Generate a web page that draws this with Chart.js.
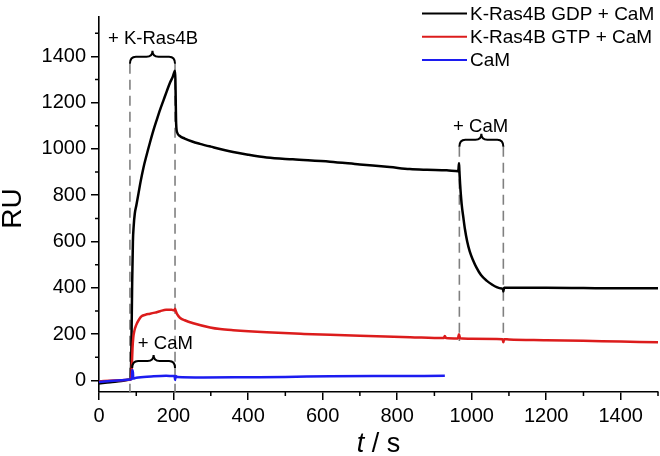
<!DOCTYPE html>
<html>
<head>
<meta charset="utf-8">
<title>SPR sensorgram</title>
<script src="https://cdn.jsdelivr.net/npm/chart.js@4.4.1/dist/chart.umd.min.js"></script>
<style>
  html, body { margin: 0; padding: 0; background: #fff; }
</style>
</head>
<body>
<canvas id="chart" width="660" height="456"></canvas>
<script>
// K-Ras4B GDP + CaM (black)
const gdpTime = [0, 30, 60, 83, 85, 87, 89, 91, 93, 96, 100, 106, 112, 119, 128, 137, 146, 155, 164, 173, 182, 191, 198, 204,
  205, 207, 210, 217, 230, 250, 271, 300, 360, 400, 450, 520, 620, 700, 780, 834, 880, 933, 964, 966, 967,
  969, 973, 978, 982, 988, 995, 1004, 1013, 1025, 1040, 1055, 1067, 1080, 1084, 1085, 1087, 1090, 1200, 1300, 1400, 1500];
const gdpRU = [-13, -8, -2, 4, 8, 150, 420, 600, 665, 720, 755, 808, 862, 917, 975, 1029, 1080, 1126, 1170, 1210, 1250, 1288, 1312, 1338,
  1300, 1110, 1070, 1056, 1045, 1032, 1022, 1010, 987, 975, 963, 955, 945, 933, 922, 913, 910, 908, 904, 938, 905,
  848, 764, 700, 653, 600, 556, 518, 487, 455, 431, 414, 403, 397, 396, 384, 400, 400, 400, 399, 398, 398];

// K-Ras4B GTP + CaM (red)
const gtpTime = [0, 40, 83, 86, 88, 90, 92, 95, 100, 107, 115, 125, 137, 150, 164, 180, 195, 202, 204, 206, 210, 217, 230, 253,
  298, 325, 360, 450, 550, 620, 700, 835, 925, 928, 931, 963, 966, 969, 1000, 1083, 1085, 1087, 1100, 1200, 1300, 1400, 1500];
const gtpRU = [-4, 0, 3, 10, 60, 140, 185, 215, 240, 262, 278, 284, 288, 293, 299, 305, 305, 302, 310, 300, 285, 271, 260, 247,
  229, 222, 217, 208, 201, 197, 193, 187, 183, 192, 183, 181, 200, 182, 180, 178, 165, 178, 177, 174, 171, 168, 165];

// CaM alone (blue)
const camTime = [0, 30, 60, 83, 88, 89, 91, 92, 100, 140, 180, 200, 203, 204, 206, 210, 280, 400, 500, 620, 800, 928];
const camRU = [-7, -3, 1, 4, 6, 45, 35, 8, 12, 17, 20, 19, 19, 2, 19, 15, 13, 14, 15, 18, 19, 20];

const seriesLabels = ['K-Ras4B GDP + CaM', 'K-Ras4B GTP + CaM', 'CaM'];
const seriesColors = ['#000000', '#dc1c1c', '#1c1cf0'];

// axis tick labels
const xTicks = [0, 200, 400, 600, 800, 1000, 1200, 1400];
const yTicks = [0, 200, 400, 600, 800, 1000, 1200, 1400];

// injection marks: dashed line times and their vertical spans (RU)
const markTimes = [83, 204, 967, 1085];
const markTop = [1368, 1368, 1009, 1009];
const markBottom = [-50, -50, 170, 170];

// braces with their labels (t0, t1, RU of brace ends, label, label centre)
const braceStart = [83, 967, 89];
const braceEnd = [204, 1085, 204];
const braceRU = [1368, 1009, 54];
const braceLabels = ['+ K-Ras4B', '+ CaM', '+ CaM'];
const braceLabelT = [145, 1024, 178];
const braceLabelRU = [1476, 1095, 158];

const FONT = '"Liberation Sans", Arial, Helvetica, sans-serif';
Chart.defaults.font.family = FONT;
Chart.defaults.color = '#000';

function toPoints(xs, ys) {
  return xs.map((x, i) => ({ x: x, y: ys[i] }));
}

function drawBrace(ctx, x0, x1, yEnd) {
  const yBody = yEnd - 7;
  const yTip = yEnd - 13;
  const xm = (x0 + x1) / 2;
  const r = 6;
  ctx.beginPath();
  ctx.moveTo(x0, yEnd);
  ctx.quadraticCurveTo(x0, yBody, x0 + r, yBody);
  ctx.lineTo(xm - r, yBody);
  ctx.quadraticCurveTo(xm, yBody, xm, yTip);
  ctx.quadraticCurveTo(xm, yBody, xm + r, yBody);
  ctx.lineTo(x1 - r, yBody);
  ctx.quadraticCurveTo(x1, yBody, x1, yEnd);
  ctx.stroke();
}

const sprPlugin = {
  id: 'sprDecorations',
  beforeDatasetsDraw(chart) {
    const ctx = chart.ctx;
    const xs = chart.scales.x, ys = chart.scales.y;
    ctx.save();
    ctx.strokeStyle = '#808080';
    ctx.lineWidth = 1.6;
    ctx.setLineDash([10, 6]);
    markTimes.forEach((t, i) => {
      const px = xs.getPixelForValue(t);
      ctx.beginPath();
      ctx.moveTo(px, ys.getPixelForValue(markTop[i]));
      ctx.lineTo(px, ys.getPixelForValue(markBottom[i]));
      ctx.stroke();
    });
    ctx.restore();
  },
  afterDraw(chart) {
    const ctx = chart.ctx;
    const xs = chart.scales.x, ys = chart.scales.y;
    const area = chart.chartArea;
    ctx.save();

    // braces and their labels
    ctx.strokeStyle = '#000';
    ctx.lineWidth = 2;
    braceStart.forEach((t0, i) => {
      drawBrace(ctx, xs.getPixelForValue(t0), xs.getPixelForValue(braceEnd[i]), ys.getPixelForValue(braceRU[i]));
    });
    ctx.fillStyle = '#000';
    ctx.font = '18.5px ' + FONT;
    ctx.textAlign = 'center';
    ctx.textBaseline = 'middle';
    braceLabels.forEach((txt, i) => {
      ctx.fillText(txt, xs.getPixelForValue(braceLabelT[i]), ys.getPixelForValue(braceLabelRU[i]));
    });

    // minor ticks
    ctx.strokeStyle = '#000';
    ctx.lineWidth = 1.5;
    ctx.beginPath();
    for (let v = 100; v <= xs.max; v += 200) {
      const px = xs.getPixelForValue(v);
      ctx.moveTo(px, area.bottom);
      ctx.lineTo(px, area.bottom + 4);
    }
    for (let v = 100; v <= ys.max; v += 200) {
      const py = ys.getPixelForValue(v);
      ctx.moveTo(area.left, py);
      ctx.lineTo(area.left - 4, py);
    }
    ctx.stroke();

    // axis titles
    ctx.font = '28px ' + FONT;
    ctx.textAlign = 'center';
    ctx.textBaseline = 'middle';
    ctx.save();
    ctx.translate(13, (area.top + area.bottom) / 2 + 4);
    ctx.rotate(-Math.PI / 2);
    ctx.fillText('RU', 0, 0);
    ctx.restore();

    ctx.font = 'italic 27px ' + FONT;
    const tW = ctx.measureText('t').width;
    ctx.font = '27px ' + FONT;
    const restW = ctx.measureText(' / s').width;
    const cx = (area.left + area.right) / 2;
    const startX = cx - (tW + restW) / 2;
    ctx.textAlign = 'left';
    ctx.textBaseline = 'alphabetic';
    ctx.font = 'italic 27px ' + FONT;
    ctx.fillText('t', startX, 452);
    ctx.font = '27px ' + FONT;
    ctx.fillText(' / s', startX + tW, 452);

    // legend
    ctx.font = '19px ' + FONT;
    ctx.textBaseline = 'middle';
    ctx.setLineDash([]);
    chart.data.datasets.forEach((ds, i) => {
      const y = 13.5 + i * 23.3;
      ctx.strokeStyle = ds.borderColor;
      ctx.lineWidth = 2;
      ctx.beginPath();
      ctx.moveTo(422, y);
      ctx.lineTo(467, y);
      ctx.stroke();
      ctx.fillText(ds.label, 470, y + 1);
    });
    ctx.restore();
  }
};

const ctx = document.getElementById('chart').getContext('2d');
new Chart(ctx, {
  type: 'line',
  data: {
    datasets: [
      { label: seriesLabels[0], data: toPoints(gdpTime, gdpRU), borderColor: seriesColors[0], order: 3 },
      { label: seriesLabels[1], data: toPoints(gtpTime, gtpRU), borderColor: seriesColors[1], order: 2 },
      { label: seriesLabels[2], data: toPoints(camTime, camRU), borderColor: seriesColors[2], order: 1 }
    ]
  },
  options: {
    responsive: false,
    animation: false,
    layout: { padding: { top: 3, right: 2, left: 0, bottom: 0 } },
    elements: {
      point: { radius: 0 },
      line: { borderWidth: 2.5, cubicInterpolationMode: 'monotone', fill: false }
    },
    plugins: {
      legend: { display: false },
      tooltip: { enabled: false }
    },
    scales: {
      x: {
        type: 'linear',
        min: 0,
        max: 1500,
        afterBuildTicks(scale) { scale.ticks = xTicks.map(v => ({ value: v })); },
        afterFit(scale) { scale.height = 64; },
        border: { color: '#000', width: 1.6 },
        grid: { drawOnChartArea: false, drawTicks: true, tickLength: 8, tickColor: '#000', lineWidth: 1.5 },
        ticks: { padding: 4, color: '#000', font: { size: 20 }, maxRotation: 0, autoSkip: false,
          callback: v => String(v) }
      },
      y: {
        type: 'linear',
        min: -50,
        max: 1570,
        afterBuildTicks(scale) { scale.ticks = yTicks.map(v => ({ value: v })); },
        afterFit(scale) { scale.width = 99; },
        border: { color: '#000', width: 1.6 },
        grid: { drawOnChartArea: false, drawTicks: true, tickLength: 8, tickColor: '#000', lineWidth: 1.5 },
        ticks: { padding: 5, color: '#000', font: { size: 20 }, autoSkip: false,
          callback: v => String(v) }
      }
    }
  },
  plugins: [sprPlugin]
});
</script>
</body>
</html>
